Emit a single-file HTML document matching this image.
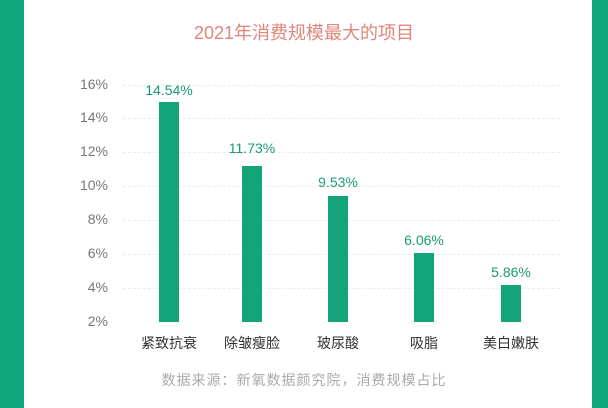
<!DOCTYPE html>
<html><head><meta charset="utf-8"><style>
body{margin:0;width:608px;height:408px;overflow:hidden;background:#fff;font-family:"Liberation Sans","Noto Sans CJK SC",sans-serif;position:relative}
.band{position:absolute;top:0;height:408px;background:#12a67c}
.t{position:absolute;white-space:nowrap}
.g{position:absolute;left:123px;width:437px;border-top:1px dashed #ececec}
.y{position:absolute;width:60px;left:48px;text-align:right;font-size:14px;color:#777}
.bar{position:absolute;width:20px;background:#14a47a;bottom:86px}
.v{position:absolute;width:80px;text-align:center;font-size:14px;color:#1a9a78}
.c{position:absolute;width:80px;text-align:center;font-size:14px;color:#333;top:333px}
</style></head><body>
<div class="band" style="left:0;width:24px"></div>
<div class="band" style="left:592px;width:16px"></div>
<div class="t" style="left:0;width:608px;text-align:center;top:19px;font-size:18px;color:#e0857c">2021年消费规模最大的项目</div>
<div class="g" style="top:85px"></div><div class="g" style="top:118px"></div><div class="g" style="top:152px"></div><div class="g" style="top:186px"></div><div class="g" style="top:220px"></div><div class="g" style="top:254px"></div><div class="g" style="top:288px"></div>
<div class="y" style="top:76px">16%</div><div class="y" style="top:109px">14%</div><div class="y" style="top:143px">12%</div><div class="y" style="top:177px">10%</div><div class="y" style="top:211px">8%</div><div class="y" style="top:245px">6%</div><div class="y" style="top:279px">4%</div><div class="y" style="top:313px">2%</div>
<div class="bar" style="left:159px;top:102px"></div>
<div class="bar" style="left:242px;top:166px"></div>
<div class="bar" style="left:328px;top:196px"></div>
<div class="bar" style="left:414px;top:253px"></div>
<div class="bar" style="left:501px;top:285px"></div>
<div class="v" style="left:129px;top:82px">14.54%</div>
<div class="v" style="left:212px;top:140px">11.73%</div>
<div class="v" style="left:298px;top:174px">9.53%</div>
<div class="v" style="left:384px;top:232px">6.06%</div>
<div class="v" style="left:471px;top:264px">5.86%</div>
<div class="c" style="left:129px">紧致抗衰</div>
<div class="c" style="left:212px">除皱瘦脸</div>
<div class="c" style="left:298px">玻尿酸</div>
<div class="c" style="left:384px">吸脂</div>
<div class="c" style="left:471px">美白嫩肤</div>
<div class="t" style="left:0;width:608px;text-align:center;top:370px;font-size:14px;color:#aaa;letter-spacing:1px">数据来源：新氧数据颜究院，消费规模占比</div>
</body></html>
